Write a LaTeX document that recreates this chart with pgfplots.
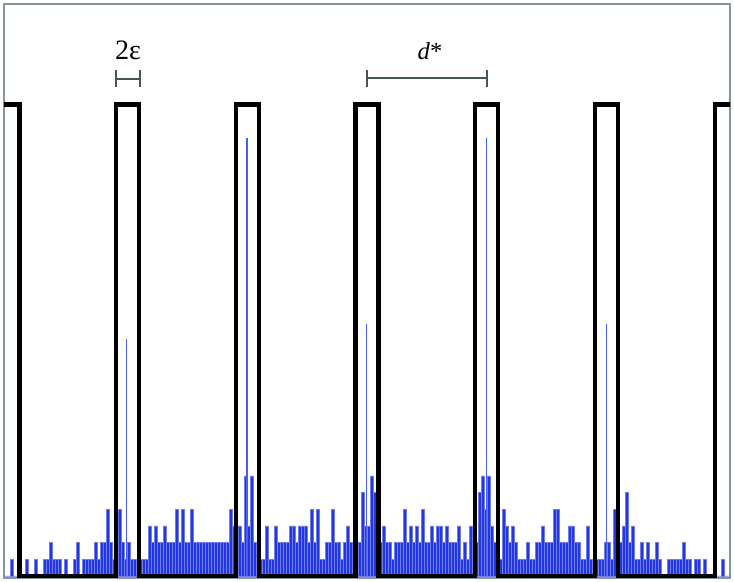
\documentclass[border=0pt]{standalone}
\usepackage{fontspec}
\setmainfont{Liberation Serif}
\usepackage{pgfplots}
\pgfplotsset{compat=1.18}
\definecolor{framegray}{RGB}{135,150,150}
\definecolor{markgray}{RGB}{70,85,85}
\definecolor{barblue}{RGB}{35,55,225}
\definecolor{spikeblue}{RGB}{75,95,238}
\begin{document}
\begin{tikzpicture}
\begin{axis}[
    scale only axis,
    width=14.52cm, height=11.48cm,
    xmin=4, xmax=730,
    ymin=-0.12, ymax=34.25,
    xtick=\empty, ytick=\empty,
    axis line style={draw=framegray, line width=1.1pt},
]
% noise histogram (bins of 3 px, heights in counts)
\addplot[ybar interval, fill=barblue, draw=barblue!65!white, line width=0.2pt] coordinates {
(4,0)(7,0)(10,1)(13,0)(16,0)(19,0)(22,0)(25,1)(28,0)(31,0)(34,1)(37,0)(40,0)(43,1)(46,1)(49,2)
(52,1)(55,1)(58,1)(61,0)(64,1)(67,0)(70,0)(73,1)(76,2)(79,0)(82,1)(85,1)(88,1)(91,1)(94,2)(97,1)
(100,2)(103,2)(106,4)(109,2)(112,1)(115,2)(118,4)(121,2)(124,1)(127,2)(130,1)(133,1)(136,1)(139,1)
(142,1)(145,1)(148,3)(151,2)(154,3)(157,2)(160,2)(163,3)(166,2)(169,2)(172,2)(175,4)(178,2)(181,4)
(184,2)(187,2)(190,4)(193,2)(196,2)(199,2)(202,2)(205,2)(208,2)(211,2)(214,2)(217,2)(220,2)(223,2)
(226,2)(229,4)(232,3)(235,1)(238,3)(241,2)(244,6)(247,3)(250,6)(253,2)(256,2)(259,1)(262,1)(265,3)
(268,1)(271,1)(274,3)(277,2)(280,2)(283,2)(286,2)(289,3)(292,3)(295,2)(298,3)(301,3)(304,3)(307,2)
(310,4)(313,2)(316,4)(319,1)(322,1)(325,2)(328,2)(331,4)(334,2)(337,2)(340,1)(343,2)(346,3)(349,2)
(352,2)(355,2)(358,2)(361,5)(364,3)(367,3)(370,6)(373,5)(376,2)(379,2)(382,3)(385,2)(388,2)(391,1)
(394,2)(397,2)(400,2)(403,4)(406,2)(409,3)(412,2)(415,3)(418,2)(421,4)(424,2)(427,2)(430,3)(433,2)
(436,3)(439,3)(442,2)(445,3)(448,2)(451,2)(454,2)(457,3)(460,1)(463,2)(466,1)(469,3)(472,2)(475,2)
(478,5)(481,6)(484,4)(487,6)(490,3)(493,2)(496,2)(499,1)(502,4)(505,3)(508,2)(511,3)(514,2)(517,1)
(520,1)(523,1)(526,2)(529,1)(532,1)(535,2)(538,2)(541,3)(544,2)(547,2)(550,2)(553,4)(556,4)(559,2)
(562,2)(565,2)(568,3)(571,3)(574,2)(577,2)(580,1)(583,1)(586,3)(589,1)(592,1)(595,1)(598,1)(601,1)
(604,2)(607,2)(610,1)(613,4)(616,2)(619,2)(622,3)(625,5)(628,2)(631,3)(634,1)(637,1)(640,2)(643,1)
(646,2)(649,1)(652,1)(655,2)(658,1)(661,0)(664,0)(667,1)(670,1)(673,1)(676,1)(679,1)(682,2)(685,1)
(688,1)(691,0)(694,1)(697,1)(700,0)(703,1)(706,0)(709,0)(712,0)(715,0)(718,0)(721,1)(724,0)(727,0)
(730,0)
};
% peaks at the pulse centres
\addplot[ycomb, spikeblue, line width=0.9pt, mark=none] coordinates {
(126.7,14.2)(247.0,26.2)(366.7,15.1)(486.3,26.2)(606.3,15.1)
};
% square wave
\addplot[black, line width=2.4pt, mark=none, line join=miter] coordinates {
(4,28.23)(19.5,28.23)(19.5,0)(116.2,0)(116.2,28.23)(139.2,28.23)(139.2,0)
(235.9,0)(235.9,28.23)(258.9,28.23)(258.9,0)(355.6,0)(355.6,28.23)(378.6,28.23)(378.6,0)
(475.3,0)(475.3,28.23)(498.3,28.23)(498.3,0)(595,0)(595,28.23)(618,28.23)(618,0)
(714.7,0)(714.7,28.23)(735,28.23)
};
% annotations
\draw[markgray, line width=1pt] (116,29.78) -- (140,29.78)
    (116,29.28) -- (116,30.28) (140,29.28) -- (140,30.28);
\draw[markgray, line width=1pt] (366.7,29.80) -- (486.7,29.80)
    (366.7,29.30) -- (366.7,30.30) (486.7,29.30) -- (486.7,30.30);
\node at (128,31.45) {\fontsize{16}{18}\selectfont 2ε};
\node at (430,31.45) {\fontsize{14}{16}\selectfont \textit{d}*};
\end{axis}
\path ([shift={(-0.08cm,-0.06cm)}]current axis.south west)
    rectangle ([shift={(0.08cm,0.08cm)}]current axis.north east);
\end{tikzpicture}
\end{document}
